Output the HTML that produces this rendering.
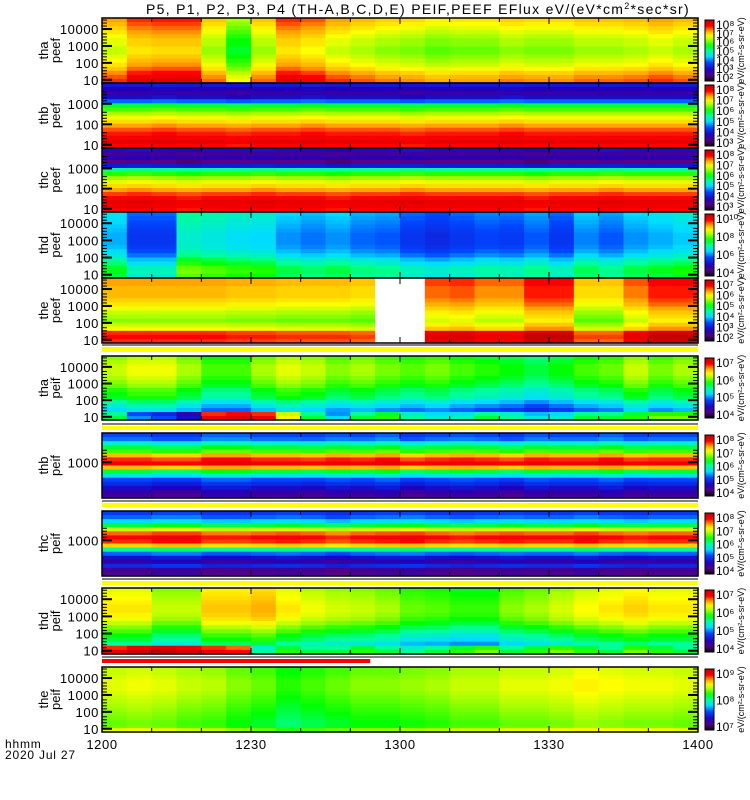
<!DOCTYPE html>
<html><head><meta charset="utf-8"><style>
body{margin:0;background:#fff;}
svg{display:block;font-family:"Liberation Sans",sans-serif;}
</style></head><body>
<svg id="chart" width="750" height="800" viewBox="0 0 750 800">
<defs><linearGradient id="cmap" x1="0" y1="1" x2="0" y2="0"></linearGradient></defs>
<text x="418" y="14" font-size="14" letter-spacing="1.3" text-anchor="middle">P5, P1, P2, P3, P4 (TH-A,B,C,D,E) PEIF,PEEF EFlux eV/(eV*cm<tspan font-size="9" dy="-5">2</tspan><tspan dy="5">*sec*sr)</tspan></text>
<g id="plots"></g>
<text x="5" y="748" font-size="12" letter-spacing="0.8">hhmm</text>
<text x="5" y="759" font-size="12" letter-spacing="0.8">2020 Jul 27</text>
</svg>
<script>
// time axis (minutes after 1200), 5-min columns
const xTickLabels = ["1200","1230","1300","1330","1400"];
const xTickMinutes = [0,30,60,90,120];
const nCols = 24;

// per-panel data: vertical energy profiles (top->bottom, normalized log flux) and column offsets
const p1Profile = [0.82,0.8,0.78,0.76,0.74,0.72,0.72,0.7,0.7,0.72,0.74,0.76,0.79,0.83,0.86,0.88];
const p1Cols = [0,0.06,0.07,0.07,-0.03,-0.14,-0.03,0.06,0.04,0,-0.02,-0.04,-0.05,-0.07,-0.06,-0.06,-0.04,-0.05,-0.05,-0.03,-0.03,-0.02,0,-0.02];
const p2Profile = [0.22,0.18,0.14,0.2,0.32,0.55,0.62,0.68,0.73,0.77,0.82,0.86,0.89,0.91,0.93,0.9];
const p2Cols = [0,0,0.01,0,0,-0.01,0,0,0.01,0,0,0,-0.01,0,0,0,0.01,0,0,0,0,0,0,0];
const p3Profile = [0.2,0.12,0.16,0.08,0.22,0.5,0.6,0.67,0.72,0.77,0.82,0.87,0.9,0.93,0.92,0.9];
const p3Cols = [0,0.01,0,-0.01,0,0,0.01,0,0,-0.01,0,0,0.01,0,0,0,0,-0.01,0,0,0.01,0,0,0];
const p4Profile = [0.42,0.41,0.4,0.39,0.38,0.37,0.37,0.37,0.38,0.4,0.43,0.48,0.52,0.56,0.57,0.55];
const p4Cols = [0,-0.1,-0.1,0.08,0.06,0.04,0.03,-0.02,-0.04,-0.02,-0.05,-0.06,-0.1,-0.12,-0.1,-0.08,-0.09,-0.06,-0.1,-0.03,-0.06,-0.02,0,0.02];
const p5Profile = [0.82,0.82,0.8,0.8,0.8,0.78,0.76,0.73,0.7,0.68,0.66,0.7,0.74,0.88,0.9,0.88];
const p5Cols = [0,0,0,0,0,-0.01,-0.01,-0.02,-0.02,-0.02,-0.03,null,null,0.05,0.06,0.03,0.03,0.09,0.09,-0.03,-0.03,0.04,0.09,0.09];
const p6Profile = [0.66,0.68,0.7,0.7,0.7,0.68,0.66,0.64,0.6,0.58,0.56,0.5,0.45,0.4,0.5,0.5];
const p6Cols = [0,0.03,0.03,-0.02,-0.08,-0.08,-0.02,0.02,0,-0.04,-0.02,-0.05,-0.07,-0.05,-0.08,-0.1,-0.12,-0.15,-0.12,-0.08,-0.06,0,-0.05,-0.02];
const p6Low = [0.5,0.3,0.25,0.15,0.88,0.9,0.88,0.7,0.5,0.35,0.5,0.55,0.45,0.4,0.42,0.5,0.45,0.38,0.4,0.5,0.5,0.55,0.6,0.6];
const p7Profile = [0.3,0.33,0.45,0.55,0.62,0.8,0.88,0.92,0.8,0.55,0.42,0.3,0.25,0.2,0.15,0.12];
const p7Cols = [0,0,-0.02,-0.02,0.02,0.02,0,0,-0.01,0.01,0,0.02,-0.02,0,0.01,0,-0.02,0.01,0,0,0.02,-0.01,0,0];
const p8Profile = [0.28,0.32,0.4,0.55,0.7,0.85,0.9,0.88,0.78,0.5,0.32,0.2,0.15,0.25,0.12,0.1];
const p8Cols = [0,0,0.02,0.02,-0.01,-0.01,0,0.01,0,-0.02,0,0.01,0.02,0,-0.01,0,0.01,0,0,0.02,0,-0.01,0,0];
const p9Profile = [0.72,0.73,0.74,0.75,0.76,0.76,0.75,0.73,0.7,0.66,0.62,0.58,0.55,0.5,0.5,0.5];
const p9Cols = [0,0,-0.06,-0.06,0.03,0.03,0.05,0,-0.03,-0.05,-0.06,-0.08,-0.12,-0.13,-0.15,-0.15,-0.1,-0.08,-0.05,-0.02,0,0.02,0,0];
const p9Low = [0.88,0.92,0.95,0.92,0.88,0.85,0.45,0.55,0.5,0.5,0.55,0.5,0.45,0.5,0.55,0.6,0.5,0.55,0.6,0.55,0.5,0.6,0.55,0.5];
const p10Profile = [0.68,0.68,0.69,0.7,0.7,0.7,0.69,0.68,0.67,0.66,0.65,0.64,0.63,0.62,0.62,0.7];
const p10Cols = [0.02,0.03,0.02,0,-0.01,-0.04,-0.06,-0.1,-0.08,-0.06,-0.04,-0.04,-0.03,-0.02,0,0,0.02,0.02,0.03,0.05,0.04,0.03,0.03,0.02];

const panels = [
 {id:"tha-peef",sc:"tha",ty:"peef",top:18,bot:83,prof:p1Profile,cols:p1Cols,ticks:["10000","1000","100","10"],cb:["10⁸","10⁷","10⁶","10⁵","10⁴","10³","10²"]},
 {id:"thb-peef",sc:"thb",ty:"peef",top:83,bot:148,prof:p2Profile,cols:p2Cols,ticks:["1000","100","10"],cb:["10⁸","10⁷","10⁶","10⁵","10⁴","10³"]},
 {id:"thc-peef",sc:"thc",ty:"peef",top:148,bot:212,prof:p3Profile,cols:p3Cols,ticks:["1000","100","10"],cb:["10⁸","10⁷","10⁶","10⁵","10⁴","10³"]},
 {id:"thd-peef",sc:"thd",ty:"peef",top:212,bot:278,prof:p4Profile,cols:p4Cols,ticks:["10000","1000","100","10"],cb:["10¹⁰","10⁸","10⁶","10⁴"]},
 {id:"the-peef",sc:"the",ty:"peef",top:278,bot:343,prof:p5Profile,cols:p5Cols,ticks:["10000","1000","100","10"],cb:["10⁷","10⁶","10⁵","10⁴","10³","10²"]},
 {id:"tha-peif",sc:"tha",ty:"peif",top:356,bot:420,prof:p6Profile,cols:p6Cols,low:p6Low,ticks:["10000","1000","100","10"],cb:["10⁷","10⁶","10⁵","10⁴"]},
 {id:"thb-peif",sc:"thb",ty:"peif",top:433,bot:498,prof:p7Profile,cols:p7Cols,ticks:["1000"],cb:["10⁸","10⁷","10⁶","10⁵","10⁴"]},
 {id:"thc-peif",sc:"thc",ty:"peif",top:511,bot:576,prof:p8Profile,cols:p8Cols,ticks:["1000"],cb:["10⁸","10⁷","10⁶","10⁵","10⁴"]},
 {id:"thd-peif",sc:"thd",ty:"peif",top:588,bot:654,prof:p9Profile,cols:p9Cols,low:p9Low,ticks:["10000","1000","100","10"],cb:["10⁷","10⁶","10⁵","10⁴"]},
 {id:"the-peif",sc:"the",ty:"peif",top:667,bot:732,prof:p10Profile,cols:p10Cols,ticks:["10000","1000","100","10"],cb:["10⁹","10⁸","10⁷"]}
];
const stripes = [
 {y:347,h:5,color:"#ffff00",tEnd:120},
 {y:426,h:4,color:"#ffff00",tEnd:120},
 {y:503,h:4,color:"#ffff00",tEnd:120},
 {y:581,h:4,color:"#ffff00",tEnd:120},
 {y:659,h:4,color:"#ff0000",tEnd:54}
];

const X0=102, X1=698;
const xScale = m => X0 + (X1-X0)*m/120;
const stops=[[0,[0,0,0]],[0.08,[90,0,130]],[0.18,[30,0,190]],[0.3,[0,70,255]],[0.4,[0,220,255]],[0.5,[0,255,150]],[0.58,[0,255,0]],[0.68,[170,255,0]],[0.74,[255,255,0]],[0.82,[255,165,0]],[0.9,[255,0,0]],[1,[190,0,0]]];
function cmap(v){v=Math.max(0,Math.min(1,v));for(let i=1;i<stops.length;i++){if(v<=stops[i][0]){const a=stops[i-1],b=stops[i],t=(v-a[0])/(b[0]-a[0]);const c=a[1].map((x,k)=>Math.round(x+(b[1][k]-x)*t));return `rgb(${c})`;}}return "rgb(190,0,0)";}
const NS="http://www.w3.org/2000/svg";
function el(tag,attrs,parent){const e=document.createElementNS(NS,tag);for(const k in attrs)e.setAttribute(k,attrs[k]);parent.appendChild(e);return e;}
const grad=document.getElementById('cmap');
for(let i=0;i<=20;i++){el('stop',{offset:i/20,'stop-color':cmap(i/20)},grad);}
const root=document.getElementById('plots');

panels.forEach(p=>{
 const g=el('g',{},root);
 
 
 const nRows=p.prof.length, rh=(p.bot-p.top)/nRows;
 for(let c=0;c<nCols;c++){
  const x=xScale(c*5), w=xScale((c+1)*5)-x;
  for(let r=0;r<nRows;r++){
   let fill;
   if(p.cols[c]===null) fill="#ffffff";
   else{let v=p.prof[r]+p.cols[c];if(p.low&&r>=nRows-2)v=p.low[c]+(r===nRows-1?0.05:0);fill=cmap(v);}
   const rect=el('rect',{x:x.toFixed(2),y:(p.top+r*rh).toFixed(2),width:(w+0.6).toFixed(2),height:(rh+0.6).toFixed(2),fill:fill},g);
   
   
  }
 }
 const frame=el('rect',{x:X0,y:p.top,width:X1-X0,height:p.bot-p.top,fill:"none",stroke:"#000","stroke-width":1.5},g);
 
 
 const n=p.ticks.length, h=p.bot-p.top;
 p.ticks.forEach((t,i)=>{
  const y = n===1 ? p.top+h*0.45 : p.top+h*(0.17+0.78*i/(n-1));
  const yy = n===3 ? p.top+h*(0.32+0.63*i/2) : y;
  const lab=el('text',{x:X0-3,y:yy+5,'font-size':13,'letter-spacing':0.6,'text-anchor':'end'},g);
  lab.textContent=t;
  
  
  el('line',{x1:X0,x2:X0+10,y1:yy,y2:yy,stroke:"#000","stroke-width":2},g);
  el('line',{x1:X1,x2:X1-10,y1:yy,y2:yy,stroke:"#000","stroke-width":2},g);
  for(let m=1;m<5;m++){const ym=yy-m*3;if(ym>p.top+1){el('line',{x1:X0,x2:X0+5,y1:ym,y2:ym,stroke:"#000","stroke-width":1},g);el('line',{x1:X1,x2:X1-5,y1:ym,y2:ym,stroke:"#000","stroke-width":1},g);}}
 });
 for(let m=10;m<120;m+=10){const x=xScale(m);const L=(m%30===0)?6:4;el('line',{x1:x,x2:x,y1:p.bot,y2:p.bot-L,stroke:"#000"},g);el('line',{x1:x,x2:x,y1:p.top,y2:p.top+L,stroke:"#000"},g);}
 const cy=(p.top+p.bot)/2;
 const lt=el('text',{transform:`translate(48,${cy}) rotate(-90)`,'font-size':13,'text-anchor':'middle'},g);
 lt.textContent=p.sc;
 
 
 const lt2=el('text',{transform:`translate(60,${cy}) rotate(-90)`,'font-size':13,'text-anchor':'middle'},g);
 lt2.textContent=p.ty;
 
 
 const cb=el('rect',{x:705,y:p.top+2,width:9,height:h-4,fill:"url(#cmap)",stroke:"#000","stroke-width":1},g);
 
 
 p.cb.forEach((t,i)=>{
  const y=p.top+6+(h-12)*i/Math.max(1,p.cb.length-1);
  const ct=el('text',{x:716,y:y+5,'font-size':12},g);
  ct.textContent=t;
  
  
 });
 const ut=el('text',{transform:`translate(744,${cy}) rotate(-90)`,'font-size':9,'text-anchor':'middle'},g);
 ut.textContent="eV/(cm²-s-sr-eV)";
 
 
});
stripes.forEach(s=>{
 const r=el('rect',{x:X0,y:s.y,width:xScale(s.tEnd)-X0,height:s.h,fill:s.color},root);
 
 
 el('line',{x1:X0,x2:X1,y1:s.y-2,y2:s.y-2,stroke:"#000","stroke-width":1},root);
});
xTickMinutes.forEach((m,i)=>{
 const t=el('text',{x:xScale(m),y:749,'font-size':13,'letter-spacing':0.6,'text-anchor':'middle'},root);
 t.textContent=xTickLabels[i];
 
 
});
</script>
</body></html>
